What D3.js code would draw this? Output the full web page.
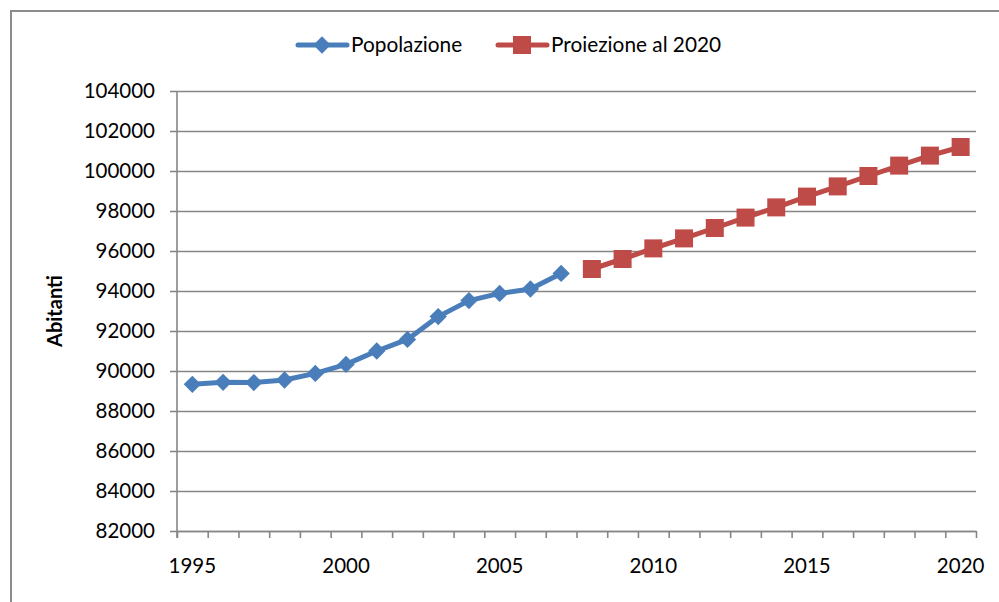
<!DOCTYPE html>
<html>
<head>
<meta charset="utf-8">
<script src="https://cdn.jsdelivr.net/npm/d3@7"></script>
<style>
  body { margin: 0; background: #fff; }
  svg { display: block; font-family: Lato, "Open Sans", sans-serif; }
  .axis text { font-size: 20.5px; fill: #000; font-family: Lato, "Open Sans", sans-serif; }
  .axis path, .axis line { stroke: #868686; stroke-width: 1.6; }
  .grid line { stroke: #868686; stroke-width: 1.6; }
  .grid path { display: none; }
</style>
</head>
<body>
<div id="chart"></div>
<script>
// categories (years)
var years = d3.range(1995, 2021).map(String);

// Popolazione 1995-2007
var popYears = ["1995","1996","1997","1998","1999","2000","2001","2002","2003","2004","2005","2006","2007"];
var popValues = [89335, 89435, 89420, 89550, 89880, 90330, 91000, 91580, 92720, 93520, 93880, 94100, 94880];

// Proiezione al 2020, 2008-2020
var projYears = ["2008","2009","2010","2011","2012","2013","2014","2015","2016","2017","2018","2019","2020"];
var projValues = [95100, 95600, 96130, 96630, 97150, 97670, 98180, 98720, 99230, 99750, 100270, 100770, 101200];

var yTicks = d3.range(82000, 104001, 2000);
var xLabels = ["1995", "2000", "2005", "2010", "2015", "2020"];

var W = 999, H = 602;
var margin = { top: 91, right: 23, bottom: 71, left: 177 };

var svg = d3.select("#chart").append("svg")
    .attr("width", W)
    .attr("height", H);

// outer frame (only top and left edges visible)
svg.append("path")
    .attr("d", "M11," + H + "V11H" + W)
    .attr("fill", "none")
    .attr("stroke", "#8c8c8c")
    .attr("stroke-width", 2);

var x = d3.scaleBand()
    .domain(years)
    .range([margin.left, W - margin.right])
    .padding(0);

var xEdges = d3.scaleLinear()
    .domain([0, years.length])
    .range([margin.left, W - margin.right]);

var y = d3.scaleLinear()
    .domain([82000, 104000])
    .range([H - margin.bottom, margin.top]);

// horizontal gridlines
svg.append("g")
    .attr("class", "grid")
    .attr("transform", "translate(" + margin.left + ",0)")
    .call(d3.axisLeft(y).tickValues(yTicks).tickSize(-(W - margin.right - margin.left)).tickFormat(""));

// y axis
var yAxis = svg.append("g")
    .attr("class", "axis")
    .attr("transform", "translate(" + margin.left + ",0)")
    .call(d3.axisLeft(y).tickValues(yTicks).tickSize(7).tickSizeOuter(0).tickPadding(15).tickFormat(d3.format("d")));
yAxis.select(".domain").attr("d", "M0," + (H - margin.bottom + 7) + "V" + margin.top);

// x axis: ticks between categories
svg.append("g")
    .attr("class", "axis")
    .attr("transform", "translate(0," + (H - margin.bottom) + ")")
    .call(d3.axisBottom(xEdges).tickValues(d3.range(years.length + 1)).tickSize(7).tickSizeOuter(0).tickFormat(""));

// x labels
var xLab = svg.append("g")
    .attr("class", "axis")
    .attr("transform", "translate(0," + (H - margin.bottom) + ")")
    .call(d3.axisBottom(x).tickValues(xLabels).tickSize(0).tickPadding(27));
xLab.select(".domain").remove();

// y title
svg.append("text")
    .attr("transform", "translate(62," + (margin.top + (H - margin.bottom - margin.top) / 2) + ") rotate(-90)")
    .attr("text-anchor", "middle")
    .style("font-size", "20px")
    .style("font-weight", "bold")
    .text("Abitanti");

var cx = function(d) { return x(d) + x.bandwidth() / 2; };

var line = d3.line()
    .x(function(d) { return cx(d[0]); })
    .y(function(d) { return y(d[1]); });

var popData = popYears.map(function(d, i) { return [d, popValues[i]]; });
var projData = projYears.map(function(d, i) { return [d, projValues[i]]; });

var blue = "#4a7ebb", red = "#be4b48";

svg.append("path")
    .datum(popData)
    .attr("d", line)
    .attr("fill", "none")
    .attr("stroke", blue)
    .attr("stroke-width", 5)
    .attr("stroke-linejoin", "round");

svg.append("path")
    .datum(projData)
    .attr("d", line)
    .attr("fill", "none")
    .attr("stroke", red)
    .attr("stroke-width", 5)
    .attr("stroke-linejoin", "round");

var diamond = d3.symbol().type(d3.symbolSquare).size(150);

svg.append("g")
    .selectAll("path")
    .data(popData)
    .enter()
    .append("path")
    .attr("d", diamond)
    .attr("transform", function(d) { return "translate(" + cx(d[0]) + "," + y(d[1]) + ") rotate(45)"; })
    .attr("fill", blue);

svg.append("g")
    .selectAll("rect")
    .data(projData)
    .enter()
    .append("rect")
    .attr("x", function(d) { return cx(d[0]) - 9; })
    .attr("y", function(d) { return y(d[1]) - 9; })
    .attr("width", 18)
    .attr("height", 18)
    .attr("fill", red);

// legend
var legend = svg.append("g").attr("transform", "translate(0,45)");

legend.append("line")
    .attr("x1", 298).attr("x2", 347)
    .attr("stroke", blue).attr("stroke-width", 5).attr("stroke-linecap", "round");
legend.append("path")
    .attr("d", diamond)
    .attr("transform", "translate(322,0) rotate(45)")
    .attr("fill", blue);
legend.append("text")
    .attr("x", 351).attr("dy", "0.35em")
    .style("font-size", "20.8px")
    .text("Popolazione");

legend.append("line")
    .attr("x1", 498).attr("x2", 547)
    .attr("stroke", red).attr("stroke-width", 5).attr("stroke-linecap", "round");
legend.append("rect")
    .attr("x", 513).attr("y", -9).attr("width", 18).attr("height", 18)
    .attr("fill", red);
legend.append("text")
    .attr("x", 551).attr("dy", "0.35em")
    .style("font-size", "20.8px")
    .text("Proiezione al 2020");
</script>
</body>
</html>
